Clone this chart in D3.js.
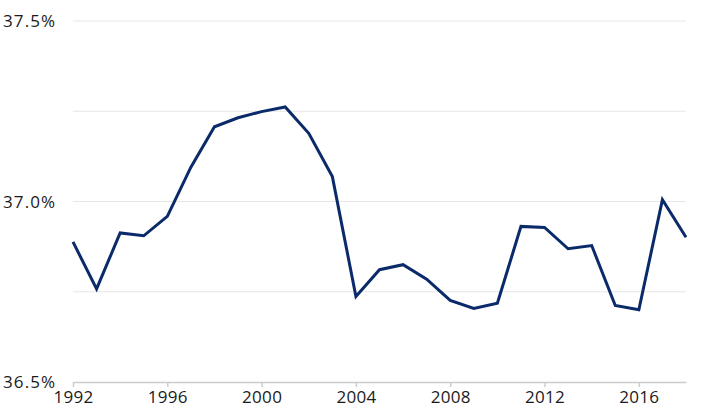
<!DOCTYPE html>
<html>
<head>
<meta charset="utf-8">
<script src="https://cdn.jsdelivr.net/npm/d3@7"></script>
<style>
  html, body { margin: 0; padding: 0; background: #fff; }
  svg { display: block; }
</style>
</head>
<body>
<svg id="chart" width="718" height="417"></svg>
<script>
const years = [1992,1993,1994,1995,1996,1997,1998,1999,2000,2001,2002,2003,2004,2005,2006,2007,2008,2009,2010,2011,2012,2013,2014,2015,2016,2017,2018];
const values = [36.888,36.758,36.913,36.905,36.959,37.095,37.207,37.232,37.249,37.262,37.189,37.069,36.737,36.811,36.825,36.785,36.726,36.704,36.718,36.931,36.928,36.869,36.878,36.712,36.700,37.005,36.901];
const xTicks = [1992,1996,2000,2004,2008,2012,2016];
const yLabelTicks = [36.5,37.0,37.5];
const yGridTicks = [36.75,37.0,37.25,37.5];

(function () {
const svg = d3.select("#chart");
const mLeft = 73, mRight = 686, mTop = 21, mBottom = 382;
const x = d3.scaleLinear().domain([1992,2018]).range([mLeft,mRight]);
const y = d3.scaleLinear().domain([36.5,37.5]).range([mBottom,mTop]);
const font = "'Open Sans', 'DejaVu Sans', sans-serif";

// gridlines
svg.append("g").selectAll("line").data(yGridTicks).join("line")
  .attr("x1", mLeft).attr("x2", mRight)
  .attr("y1", d => y(d)).attr("y2", d => y(d))
  .attr("stroke", "#e6e6e6").attr("stroke-width", 1);

// y labels
svg.append("g").selectAll("text").data(yLabelTicks).join("text")
  .attr("x", 3).attr("y", d => y(d))
  .attr("dy", "0.36em")
  .attr("font-family", font).attr("font-size", 17)
  .attr("letter-spacing", 1.1)
  .attr("fill", "#1a1a1a")
  .text(d => d.toFixed(1) + "%");

// x axis
const xAxis = d3.axisBottom(x).tickValues(xTicks).tickFormat(d3.format("d")).tickSize(5).tickSizeOuter(0);
const gx = svg.append("g").attr("transform", `translate(0,${mBottom})`).call(xAxis);
gx.select(".domain").attr("stroke", "#cccccc").attr("stroke-width", 1.5);
gx.selectAll(".tick line").attr("stroke", "#cccccc").attr("stroke-width", 1.5);
gx.selectAll(".tick text")
  .attr("font-family", font).attr("font-size", 17)
  .attr("letter-spacing", 0.3)
  .attr("fill", "#1a1a1a").attr("y", 9);

// line
const line = d3.line().x((d,i) => x(years[i])).y(d => y(d));
svg.append("path").datum(values)
  .attr("d", line)
  .attr("fill", "none")
  .attr("stroke", "#0a2a6a")
  .attr("stroke-width", 3)
  .attr("stroke-linejoin", "miter");
})();
</script>
</body>
</html>
